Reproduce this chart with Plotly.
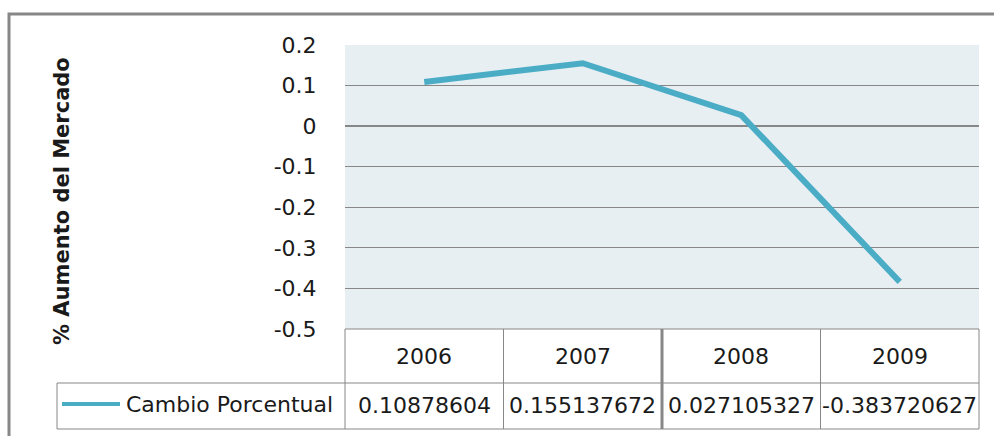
import plotly.graph_objects as go

# Market growth per year
years = ["2006", "2007", "2008", "2009"]
cambio = [0.10878604, 0.155137672, 0.027105327, -0.383720627]
series_name = "Cambio Porcentual"
y_title = "% Aumento del Mercado"
y_ticks = [0.2, 0.1, 0, -0.1, -0.2, -0.3, -0.4, -0.5]

W, H = 994, 436
PL, PR, PT, PB = 345, 979, 45, 329  # plot area in pixels
FONT = "DejaVu Sans"
TEXT = "#1a1a1a"
LINE_COLOR = "#4BACC6"
GRID = "#878787"


def px_x(px):
    return (px - PL) / (PR - PL)


def px_y(py):
    return (PB - py) / (PB - PT)


fig = go.Figure()
fig.add_trace(go.Scatter(
    x=list(range(len(years))), y=cambio, mode="lines",
    line=dict(color=LINE_COLOR, width=6), name=series_name,
    showlegend=False, hoverinfo="skip",
))

shapes = []
annotations = []

# outer chart frame
shapes.append(dict(type="rect", xref="paper", yref="paper",
                   x0=px_x(9), x1=px_x(1010), y0=px_y(14), y1=px_y(460),
                   line=dict(color=GRID, width=3), layer="below"))

# data table grid
col_edges = [PL + i * (PR - PL) / len(years) for i in range(len(years) + 1)]
row_top, row_mid, row_bot = PB, 383, 429
leg_left = 57
for i, cx in enumerate(col_edges):
    w = 3 if i == 2 else 1
    shapes.append(dict(type="line", xref="paper", yref="paper",
                       x0=px_x(cx), x1=px_x(cx), y0=px_y(row_top), y1=px_y(row_bot),
                       line=dict(color=GRID, width=w)))
shapes.append(dict(type="line", xref="paper", yref="paper",
                   x0=px_x(PL), x1=px_x(PR), y0=px_y(row_top), y1=px_y(row_top),
                   line=dict(color=GRID, width=1)))
for ry in (row_mid, row_bot):
    shapes.append(dict(type="line", xref="paper", yref="paper",
                       x0=px_x(leg_left), x1=px_x(PR), y0=px_y(ry), y1=px_y(ry),
                       line=dict(color=GRID, width=1)))
shapes.append(dict(type="line", xref="paper", yref="paper",
                   x0=px_x(leg_left), x1=px_x(leg_left), y0=px_y(row_mid), y1=px_y(row_bot),
                   line=dict(color=GRID, width=1)))

# legend key in the table
shapes.append(dict(type="line", xref="paper", yref="paper",
                   x0=px_x(62), x1=px_x(120), y0=px_y(404), y1=px_y(404),
                   line=dict(color=LINE_COLOR, width=4)))
annotations.append(dict(text=series_name, xref="paper", yref="paper",
                        x=px_x(335), y=px_y(404), xanchor="right", yanchor="middle",
                        showarrow=False, font=dict(family=FONT, size=22, color=TEXT)))

# year headers and values
for i, (yr, v) in enumerate(zip(years, cambio)):
    annotations.append(dict(text=yr, xref="x", yref="paper", x=i, y=px_y(356),
                            xanchor="center", yanchor="middle", showarrow=False,
                            font=dict(family=FONT, size=22, color=TEXT)))
    annotations.append(dict(text=str(v), xref="x", yref="paper", x=i, y=px_y(405),
                            xanchor="center", yanchor="middle", showarrow=False,
                            font=dict(family=FONT, size=22, color=TEXT)))

# vertical axis title
annotations.append(dict(text="<b>" + y_title + "</b>", xref="paper", yref="paper",
                        x=px_x(62), y=px_y(201), textangle=-90,
                        xanchor="center", yanchor="middle", showarrow=False,
                        font=dict(family=FONT, size=21, color=TEXT)))

fig.update_layout(
    width=W, height=H, autosize=False,
    margin=dict(l=PL, r=W - PR, t=PT, b=H - PB, pad=0),
    paper_bgcolor="white", plot_bgcolor="#E8EFF3",
    shapes=shapes, annotations=annotations,
    xaxis=dict(range=[-0.5, len(years) - 0.5], showticklabels=False, showgrid=False,
               zeroline=False, showline=False, ticks="", fixedrange=True),
    yaxis=dict(range=[-0.5, 0.2], tickvals=y_ticks,
               ticktext=[f"{t:g}" for t in y_ticks],
               showgrid=True, gridcolor=GRID, gridwidth=1,
               zeroline=True, zerolinecolor=GRID, zerolinewidth=2,
               showline=False, ticks="outside", ticklen=23,
               tickcolor="rgba(0,0,0,0)",
               tickfont=dict(family=FONT, size=22, color=TEXT), fixedrange=True),
)

fig.write_html("out.html")
